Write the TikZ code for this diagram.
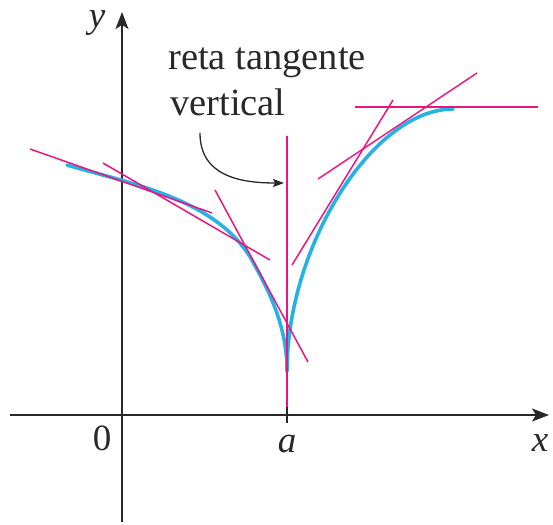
\documentclass[tikz,border=0pt]{standalone}
\usepackage{fontspec}
\setmainfont{Liberation Serif}
\usetikzlibrary{arrows.meta}
\definecolor{tanpink}{RGB}{232,22,128}
\definecolor{curvecyan}{RGB}{38,178,230}
\definecolor{axisgray}{RGB}{40,40,40}
\tikzset{
  axisline/.style={draw=axisgray, line width=1.6pt, -{Stealth[length=17pt,width=13pt,inset=4pt]}},
  tanline/.style={draw=tanpink, line width=1.5pt},
  curveline/.style={draw=curvecyan, line width=3.6pt, line cap=round},
  lbl/.style={font=\fontsize{37}{44}\selectfont, text=axisgray, inner sep=0pt},
  note/.style={font=\fontsize{38.5}{45}\selectfont, text=axisgray, inner sep=0pt, anchor=base west},
}
\begin{document}
\begin{tikzpicture}[x=1pt,y=-1pt]
\useasboundingbox (0,0) rectangle (553,524);
% axes
\coordinate (xs) at (10,415);
\coordinate (xe) at (549,415);
\coordinate (ys) at (122,522);
\coordinate (ye) at (122,12);
\draw[axisline] (xs) -- (xe);
\draw[axisline] (ys) -- (ye);
% tick at a
\coordinate (ta) at (287,407);
\coordinate (tb) at (287,423);
\draw[axisgray, line width=1.6pt] (ta) -- (tb);
% curve
\coordinate (cl) at (67,165);
\coordinate (cm) at (253,262);
\coordinate (cb) at (287,371);
\coordinate (cr) at (453,109);
\draw[curveline] (cl) .. controls (127,183) and (218,198) .. (cm)
                      .. controls (269,291) and (287,326) .. (cb);
\draw[curveline] (cb) .. controls (287,246) and (373,109) .. (cr);
% tangent lines
\coordinate (l1a) at (30,149);  \coordinate (l1b) at (212,213);
\coordinate (l2a) at (103,163); \coordinate (l2b) at (270,260);
\coordinate (l3a) at (215,190); \coordinate (l3b) at (308,362);
\coordinate (va)  at (287,136); \coordinate (vb)  at (287,407);
\coordinate (l4a) at (292,265); \coordinate (l4b) at (393,100);
\coordinate (l5a) at (318,179); \coordinate (l5b) at (477,73);
\coordinate (l6a) at (355,107); \coordinate (l6b) at (538,107);
\draw[tanline] (l1a) -- (l1b);
\draw[tanline] (l2a) -- (l2b);
\draw[tanline] (l3a) -- (l3b);
\draw[tanline, line width=1.8pt] (va) -- (vb);
\draw[tanline] (l4a) -- (l4b);
\draw[tanline] (l5a) -- (l5b);
\draw[tanline] (l6a) -- (l6b);
% labels
\node[lbl, anchor=base] (ylab) at (97,28) {\itshape y};
\node[lbl, anchor=base] (xlab) at (540,451) {\itshape x};
\node[lbl, anchor=base] (zlab) at (102,450) {0};
\node[lbl, anchor=base] (alab) at (287,452) {\itshape a};
\node[note] (t1) at (168,70) {reta tangente};
\node[note] (t2) at (170,115) {vertical};
% arrow
\coordinate (as) at (200,133);
\coordinate (ae) at (284,183);
\draw[axisgray, line width=1.3pt, -{Stealth[length=11pt,width=8pt,inset=2pt]}] (as) .. controls (200,176) and (240,183) .. (ae);
\end{tikzpicture}
\end{document}
